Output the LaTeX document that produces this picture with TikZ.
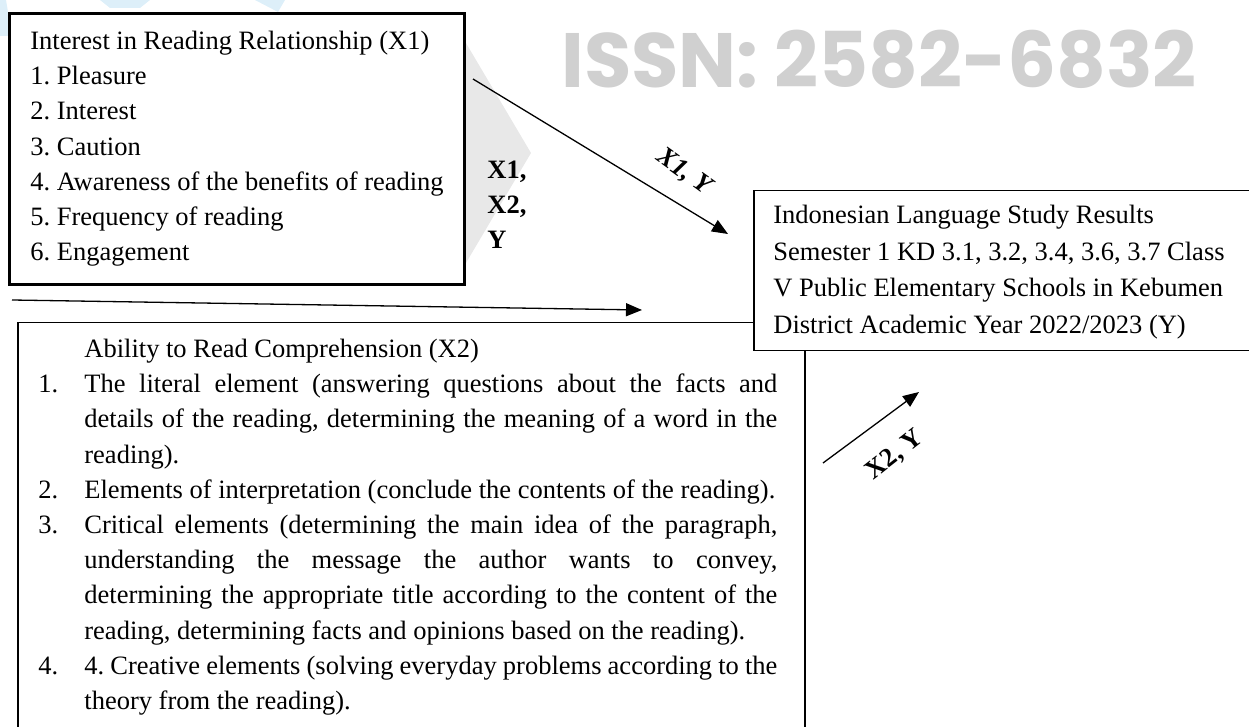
\documentclass[tikz,border=0pt]{standalone}
\usepackage{fontspec}
\setmainfont{Liberation Serif}
\newfontfamily\wmfont{Poppins}
\usepackage{tikz}
\usetikzlibrary{arrows.meta,calc,positioning}
\definecolor{WatermarkGray}{HTML}{D0D0D0}
\definecolor{ChevronGray}{HTML}{E8E8E8}
\definecolor{LogoBlue}{HTML}{DDEFF9}
\frenchspacing

\tikzset{
  varbox/.style={draw,anchor=north west,inner sep=0pt,fill=white},
  bodytext/.style={anchor=north west,inner sep=0pt,font=\fontsize{13.25}{17.6}\selectfont},
  pathlbl/.style={inner sep=0pt,font=\fontsize{13.25}{17.5}\selectfont\bfseries},
  relarrow/.style={-{Triangle[length=8pt,width=6.5pt]},line width=0.65pt}
}

\begin{document}
\begin{tikzpicture}[x=0.5pt,y=-0.5pt]
  \useasboundingbox (0,0) rectangle (1249,727);
  % faint logo and watermark behind the diagram
  \fill[LogoBlue] (0,0) -- (6,0) -- (12,36) -- (0,36) -- cycle;
  \fill[LogoBlue] (100,0) -- (150,0) -- (140,8) -- (110,8) -- cycle;
  \fill[LogoBlue] (255,0) -- (285,0) -- (278,12) -- cycle;
  \fill[ChevronGray] (463,38) -- (531,153) -- (463,268) -- cycle;
  \node[anchor=base west,inner sep=0pt,text=WatermarkGray,
        font=\wmfont\bfseries\fontsize{38.5}{40}\selectfont] (issn) at (561,88) {ISSN: 2582-6832};

  % variable boxes
  \node[varbox,line width=1.5pt,minimum width=227.5pt,minimum height=135.5pt] (x1box) at (8,12) {};
  \node[bodytext,text width=220pt,align=flush left] (x1text) at (30,24.4)
    {\strut Interest in Reading Relationship (X1)\\
     1. Pleasure\\
     2. Interest\\
     3. Caution\\
     4. Awareness of the benefits of reading\\
     5. Frequency of reading\\
     6. Engagement};

  \node[varbox,line width=0.75pt,minimum width=393.5pt,minimum height=215pt] (x2box) at (17,322) {};
  \node[bodytext,text width=369.5pt,align=justify] (x2text) at (38,332.4)
    {\hspace*{23pt}\strut Ability to Read Comprehension (X2)\par
     \hangindent=23pt\hangafter=1\makebox[23pt][l]{1.}The literal element (answering questions about the facts and\linebreak
     details of the reading, determining the meaning of a word in the\linebreak reading).\par
     \hangindent=23pt\hangafter=1\makebox[23pt][l]{2.}Elements of interpretation (conclude the contents of the reading).\par
     \hangindent=23pt\hangafter=1\makebox[23pt][l]{3.}Critical elements (determining the main idea of the paragraph,\linebreak
     understanding the message the author wants to convey,\linebreak
     determining the appropriate title according to the content of the\linebreak
     reading, determining facts and opinions based on the reading).\par
     \hangindent=23pt\hangafter=1\makebox[23pt][l]{4.}4. Creative elements (solving everyday problems according to the\linebreak
     theory from the reading).\par};

  \node[varbox,line width=0.75pt,minimum width=260pt,minimum height=80pt] (ybox) at (753,190) {};
  \node[bodytext,font=\fontsize{13.25}{18.35}\selectfont,text width=235pt,align=flush left] (ytext) at (773,197.3)
    {\strut Indonesian Language Study Results\\
     Semester 1 KD 3.1, 3.2, 3.4, 3.6, 3.7 Class\\
     V Public Elementary Schools in Kebumen\\
     District Academic Year 2022/2023 (Y)};

  % relations
  \coordinate (x1start) at (473,79);
  \coordinate (x1end) at (728,234);
  \coordinate (bothstart) at (12,300);
  \coordinate (bothend) at (642,310);
  \coordinate (x2start) at (823,463);
  \coordinate (x2end) at (919,392);
  \draw[relarrow] (x1start) -- (x1end);
  \draw[relarrow] (bothstart) -- (bothend);
  \draw[relarrow] (x2start) -- (x2end);

  \node[pathlbl,rotate=-36,font=\fontsize{13.25}{17.5}\selectfont\bfseries\itshape] (lblx1y) at (684,172) {X1, Y};
  \node[pathlbl,rotate=38] (lblx2y) at (895,455) {X2, Y};
  \node[pathlbl,anchor=north west,text width=30pt,align=flush left] (lblall) at (487,153.4) {\strut X1,\\ X2,\\ Y};
\end{tikzpicture}
\end{document}
